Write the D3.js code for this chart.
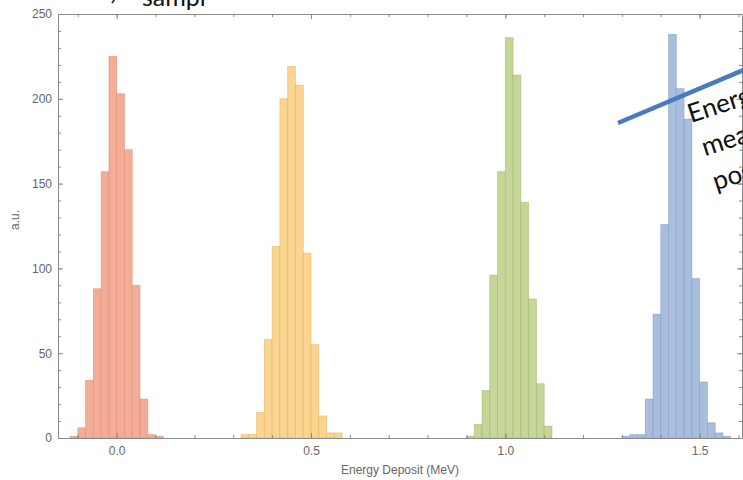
<!DOCTYPE html>
<html>
<head>
<meta charset="utf-8">
<script src="https://cdn.jsdelivr.net/npm/d3@7/dist/d3.min.js"></script>
<style>
  html, body { margin: 0; padding: 0; background: #fff; overflow: hidden; }
  svg { display: block; }
</style>
</head>
<body>
<svg id="chart" width="743" height="480"></svg>
<script>
// ---- data ----
const binWidth = 0.02;
const redBins    = [-0.12, -0.10, -0.08, -0.06, -0.04, -0.02, 0.00, 0.02, 0.04, 0.06, 0.08, 0.10];
const redCounts  = [1, 6, 34, 88, 157, 225, 203, 170, 90, 23, 2, 1];
const orangeBins   = [0.32, 0.34, 0.36, 0.38, 0.40, 0.42, 0.44, 0.46, 0.48, 0.50, 0.52, 0.54, 0.56];
const orangeCounts = [2, 2, 15, 58, 113, 200, 219, 208, 109, 55, 13, 3, 3];
const greenBins   = [0.90, 0.92, 0.94, 0.96, 0.98, 1.00, 1.02, 1.04, 1.06, 1.08, 1.10];
const greenCounts = [1, 8, 28, 96, 157, 236, 214, 139, 82, 32, 7];
const blueBins   = [1.30, 1.32, 1.34, 1.36, 1.38, 1.40, 1.42, 1.44, 1.46, 1.48, 1.50, 1.52, 1.54, 1.56];
const blueCounts = [1, 2, 2, 23, 73, 126, 238, 206, 188, 94, 33, 9, 3, 1];

const xMajorTicks = [0.0, 0.5, 1.0, 1.5];
const xTickLabels = ["0.0", "0.5", "1.0", "1.5"];
const yMajorTicks = [0, 50, 100, 150, 200, 250];
const xLabel = "Energy Deposit (MeV)";
const yLabel = "a.u.";
const noteLines = ["Energ", "meas", "pos"];

const series = [
  { bins: redBins,    counts: redCounts,    fill: "#f3ad96", stroke: "#d98468" },
  { bins: orangeBins, counts: orangeCounts, fill: "#fad58f", stroke: "#dcaa55" },
  { bins: greenBins,  counts: greenCounts,  fill: "#c6d698", stroke: "#98ae62" },
  { bins: blueBins,   counts: blueCounts,   fill: "#a9bedd", stroke: "#7c95c0" }
];

// ---- layout ----
const svg = d3.select("#chart");
const mLeft = 58, mRight = 742, mTop = 14, mBottom = 438;
const x = d3.scaleLinear().domain([-0.151, 1.609]).range([mLeft, mRight]);
const y = d3.scaleLinear().domain([0, 250]).range([mBottom, mTop]);

const gray = "#8a8a8a";
const textGray = "#666";
const fontAx = "Liberation Sans, Arial, sans-serif";

// bars
series.forEach(s => {
  svg.append("g").selectAll("rect")
    .data(s.bins.map((b, i) => ({ x0: b, x1: b + binWidth, c: s.counts[i] })))
    .join("rect")
    .attr("x", d => x(d.x0))
    .attr("width", d => x(d.x1) - x(d.x0))
    .attr("y", d => y(d.c))
    .attr("height", d => y(0) - y(d.c))
    .attr("fill", s.fill)
    .attr("stroke", s.stroke)
    .attr("stroke-opacity", 0.55)
    .attr("stroke-width", 0.8);
});

// frame axes
const xMinor = d3.range(-1, 17).map(i => i / 10).filter(v => v >= -0.15 && v <= 1.6);
const yMinor = d3.range(0, 26).map(i => i * 10);

function styleAxis(g) {
  g.selectAll("path.domain").attr("stroke", gray).attr("stroke-width", 1);
  g.selectAll(".tick line").attr("stroke", gray);
  g.selectAll("text").attr("fill", textGray).attr("font-family", fontAx).attr("font-size", 12);
}

// bottom
svg.append("g").attr("transform", `translate(0,${mBottom})`)
  .call(d3.axisBottom(x).tickValues(xMinor).tickSize(-3).tickFormat("").tickSizeOuter(0))
  .call(styleAxis);
svg.append("g").attr("transform", `translate(0,${mBottom})`)
  .call(d3.axisBottom(x).tickValues(xMajorTicks).tickSize(-5).tickSizeOuter(0)
        .tickFormat((d, i) => xTickLabels[i]).tickPadding(8))
  .call(styleAxis)
  .call(g => g.select("path.domain").remove());
// top
svg.append("g").attr("transform", `translate(0,${mTop})`)
  .call(d3.axisTop(x).tickValues(xMinor).tickSize(-3).tickFormat("").tickSizeOuter(0))
  .call(styleAxis);
svg.append("g").attr("transform", `translate(0,${mTop})`)
  .call(d3.axisTop(x).tickValues(xMajorTicks).tickSize(-5).tickFormat("").tickSizeOuter(0))
  .call(styleAxis)
  .call(g => g.select("path.domain").remove());
// left
svg.append("g").attr("transform", `translate(${mLeft},0)`)
  .call(d3.axisLeft(y).tickValues(yMinor).tickSize(-3).tickFormat("").tickSizeOuter(0))
  .call(styleAxis);
svg.append("g").attr("transform", `translate(${mLeft},0)`)
  .call(d3.axisLeft(y).tickValues(yMajorTicks).tickSize(-5).tickFormat(d3.format("d")).tickPadding(6).tickSizeOuter(0))
  .call(styleAxis)
  .call(g => g.select("path.domain").remove());
// right
svg.append("g").attr("transform", `translate(${mRight},0)`)
  .call(d3.axisRight(y).tickValues(yMinor).tickSize(-3).tickFormat("").tickSizeOuter(0))
  .call(styleAxis);
svg.append("g").attr("transform", `translate(${mRight},0)`)
  .call(d3.axisRight(y).tickValues(yMajorTicks).tickSize(-5).tickFormat("").tickSizeOuter(0))
  .call(styleAxis)
  .call(g => g.select("path.domain").remove());

// axis labels
svg.append("text")
  .attr("x", 400).attr("y", 474)
  .attr("text-anchor", "middle")
  .attr("fill", textGray)
  .attr("font-family", fontAx)
  .attr("font-size", 12)
  .text(xLabel);
svg.append("text")
  .attr("transform", `translate(19,220) rotate(-90)`)
  .attr("text-anchor", "middle")
  .attr("fill", textGray)
  .attr("font-family", fontAx)
  .attr("font-size", 12)
  .text(yLabel);

// slide overlay pieces (cut off at the edges in the reference)
svg.append("text")
  .attr("x", 110).attr("y", 5)
  .attr("font-family", "Lato, 'Open Sans', sans-serif")
  .attr("font-size", 24)
  .attr("fill", "#111")
  .text("\u203A");
svg.append("text")
  .attr("x", 142).attr("y", 6)
  .attr("font-family", "Lato, 'Open Sans', sans-serif")
  .attr("font-size", 25)
  .attr("fill", "#111")
  .text("sampl");

svg.append("line")
  .attr("x1", 618).attr("y1", 123)
  .attr("x2", 760).attr("y2", 63)
  .attr("stroke", "#4a7bbd")
  .attr("stroke-width", 4.5)
  .attr("stroke-linecap", "butt");

const note = svg.append("g").attr("transform", "translate(691,123) rotate(-18)");
noteLines.forEach((t, i) => {
  note.append("text")
    .attr("x", [0, 3, 3][i]).attr("y", i * 36)
    .attr("font-family", "Lato, 'Open Sans', sans-serif")
    .attr("font-size", 26)
    .attr("fill", "#111")
    .text(t);
});
</script>
</body>
</html>
